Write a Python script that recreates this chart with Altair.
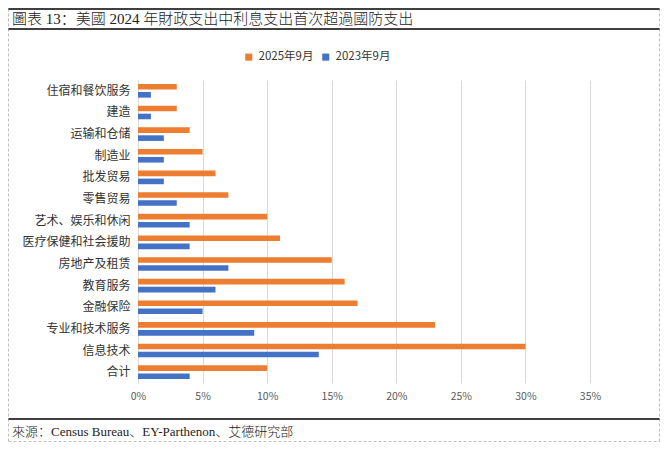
import altair as alt
import pandas as pd

categories = ["住宿和餐饮服务", "建造", "运输和仓储", "制造业", "批发贸易", "零售贸易",
              "艺术、娱乐和休闲", "医疗保健和社会援助", "房地产及租赁", "教育服务",
              "金融保险", "专业和技术服务", "信息技术", "合计"]
series_names = ["2025年9月", "2023年9月"]
values_2025 = [3, 3, 4, 5, 6, 7, 10, 11, 15, 16, 17, 23, 30, 10]
values_2023 = [1, 1, 2, 2, 2, 3, 4, 4, 7, 6, 5, 9, 14, 4]
x_ticks = [0, 5, 10, 15, 20, 25, 30, 35]

title_text = "圖表 13：美國 2024 年財政支出中利息支出首次超過國防支出"
source_text = "來源：Census Bureau、EY-Parthenon、艾德研究部"

rows = []
for c, a, b in zip(categories, values_2025, values_2023):
    rows.append({"cat": c, "series": series_names[0], "v": a})
    rows.append({"cat": c, "series": series_names[1], "v": b})
df = pd.DataFrame(rows)

FONT = "Noto Sans CJK SC"

bars = alt.Chart(df).mark_bar().encode(
    y=alt.Y("cat:N", sort=categories,
            scale=alt.Scale(paddingInner=0.37, paddingOuter=0.185),
            axis=alt.Axis(title=None, domain=False, ticks=False, labelPadding=8,
                          labelFont=FONT, labelFontSize=12, labelColor="#333333")),
    x=alt.X("v:Q", scale=alt.Scale(domain=[0, 35], nice=False),
            axis=alt.Axis(title=None, values=x_ticks, labelExpr="datum.value + '%'",
                          domain=False, ticks=False, grid=True, gridColor="#d9d9d9",
                          labelFlush=False, labelPadding=8, labelFont=FONT,
                          labelFontSize=10.5, labelColor="#595959")),
    yOffset=alt.YOffset("series:N", sort=series_names,
                        scale=alt.Scale(paddingInner=0.3, paddingOuter=0)),
    color=alt.Color("series:N", sort=series_names,
                    scale=alt.Scale(domain=series_names, range=["#ED7D31", "#4472C4"]),
                    legend=alt.Legend(title=None, orient="none", direction="horizontal",
                                      legendX=105, legendY=-29, symbolType="square",
                                      symbolSize=50, labelFont=FONT, labelFontSize=11.5,
                                      labelColor="#333333", columnPadding=6,
                                      labelOffset=4)),
)

one = pd.DataFrame({"a": [0]})

def hrule(y, x1, x2, color, width=1, dash=None):
    kw = dict(color=color, strokeWidth=width)
    if dash:
        kw["strokeDash"] = dash
    return alt.Chart(one).mark_rule(**kw).encode(
        x=alt.value(x1), x2=alt.value(x2), y=alt.value(y))

def vrule(x, y1, y2, color, width=1, dash=None):
    kw = dict(color=color, strokeWidth=width)
    if dash:
        kw["strokeDash"] = dash
    return alt.Chart(one).mark_rule(**kw).encode(
        x=alt.value(x), y=alt.value(y1), y2=alt.value(y2))

L, R, T, B = -129.5, 521.5, -71.5, 361.5
frame = [
    vrule(L, T, B, "#bfbfbf", 1, [3, 2]),
    vrule(R, T, B, "#bfbfbf", 1, [3, 2]),
    hrule(B, L, R, "#bfbfbf", 1, [3, 2]),
    hrule(-71, L, R, "#000000", 1.5),
    hrule(-51, L, R, "#000000", 1.5),
    hrule(339, L, R, "#000000", 1.5),
]

title = alt.Chart(one).mark_text(align="left", baseline="middle",
                                 font="Liberation Serif, " + FONT, fontWeight=300,
                                 fontSize=15, color="#222222").encode(
    x=alt.value(-126), y=alt.value(-61), text=alt.value(title_text))
source = alt.Chart(one).mark_text(align="left", baseline="middle",
                                  font="Liberation Serif, " + FONT, fontWeight=300,
                                  fontSize=13, color="#222222").encode(
    x=alt.value(-126), y=alt.value(352), text=alt.value(source_text))

chart = alt.layer(bars, *frame, title, source).properties(
    width=452, height=303,
    autosize=alt.AutoSizeParams(type="none"),
    padding={"left": 130, "top": 72, "right": 70, "bottom": 59},
).configure_view(stroke=None)

chart.save("out.html", embed_options={"renderer": "svg", "actions": False})
